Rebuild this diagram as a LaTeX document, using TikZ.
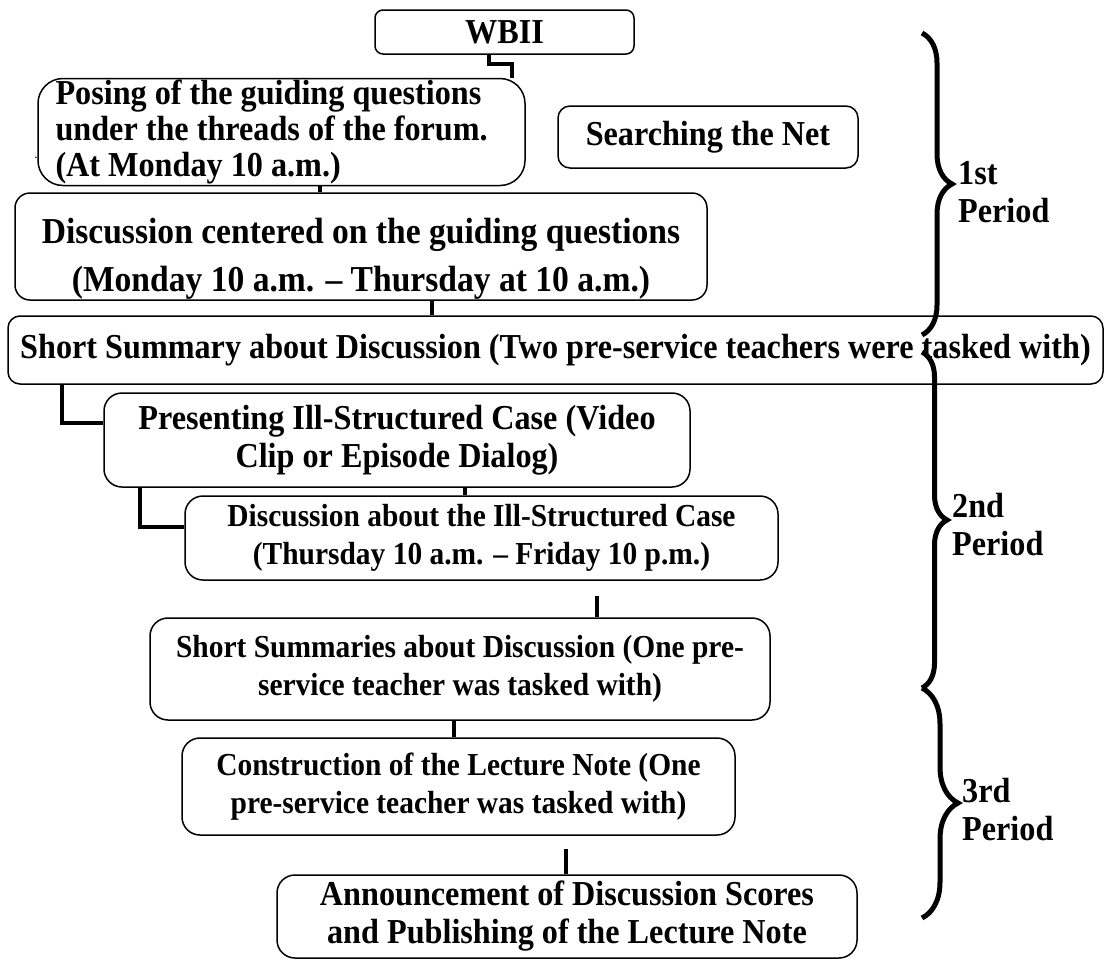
\documentclass[tikz,border=0pt]{standalone}
\usepackage{fontspec}
\setmainfont[FakeStretch=0.92]{Liberation Serif}
\usetikzlibrary{decorations.pathreplacing}

\begin{document}
\begin{tikzpicture}[
   x=1pt, y=-1pt,
   font=\fontsize{35}{38}\selectfont\bfseries,
   box/.style={draw,line width=1.5pt,rounded corners=#1,align=center,inner sep=0pt},
   box/.default=15pt,
   narrow/.style={font=\fontsize{32}{38}\selectfont\bfseries},
   link/.style={line width=4pt},
   period/.style={decorate,decoration={brace,amplitude=#1},line width=5pt},
   plabel/.style={anchor=west,align=left,inner sep=0pt}]
\useasboundingbox (0,0) rectangle (1108,959);
% boxes
\node[box=8pt,minimum width=259pt,minimum height=44pt] (wbii) at (504.5,32) {WBII};
\node[box=25pt,minimum width=487pt,minimum height=107pt,align=flush left,text width=452pt,
   font=\fontsize{35}{36}\selectfont\bfseries] (posing) at (281.5,132) {Posing of the guiding questions\\under the threads of the forum.\\(At Monday 10 a.m.)};
\node[box=12pt,minimum width=300pt,minimum height=62pt] (search) at (708,137) {Searching the Net};
\node[box,minimum width=692pt,minimum height=107pt,
   label={[align=center,yshift=-12pt,font=\fontsize{36.5}{38}\selectfont\bfseries]center:Discussion centered on the guiding questions\\[10pt](Monday 10 a.m. -- Thursday at 10 a.m.)}] (disc1) at (361,246.5) {};
\node[box=12pt,minimum width=1095pt,minimum height=68pt] (summ1) at (555.5,350) {Short Summary about Discussion (Two pre-service teachers were tasked with)};
\node[box=18pt,minimum width=586pt,minimum height=94pt] (present) at (397,440) {Presenting Ill-Structured Case (Video\\Clip or Episode Dialog)};
\node[box=18pt,narrow,minimum width=593pt,minimum height=84pt] (disc2) at (481.5,538) {Discussion about the Ill-Structured Case\\(Thursday 10 a.m. -- Friday 10 p.m.)};
\node[box=18pt,narrow,minimum width=620pt,minimum height=102pt] (summ2) at (460,669) {Short Summaries about Discussion (One pre-\\service teacher was tasked with)};
\node[box=18pt,narrow,minimum width=553pt,minimum height=97pt] (construct) at (458.5,786.5) {Construction of the Lecture Note (One\\pre-service teacher was tasked with)};
\node[box=18pt,minimum width=580pt,minimum height=83pt] (announce) at (567,916.5) {Announcement of Discussion Scores\\and Publishing of the Lecture Note};
\node[font=\fontsize{14}{14}\selectfont] (dot) at (36,158) {.};
% connectors
\draw[link] ([xshift=-16pt]wbii.south) -- ++(0,9) -| ([xshift=230pt]posing.north);
\draw[link] (posing.south -| 320,0) -- (disc1.north -| 320,0);
\draw[link] (disc1.south -| 432,0) -- (summ1.north -| 432,0);
\draw[link] (summ1.south -| 62,0) |- (present.west |- 0,423);
\draw[link] (present.south -| 465,0) -- (disc2.north -| 465,0);
\draw[link] (present.south -| 140,0) |- (disc2.west |- 0,527);
\draw[link,shorten <=15pt] (disc2.south -| 597,0) -- (summ2.north -| 597,0);
\draw[link] (summ2.south -| 454,0) -- (construct.north -| 454,0);
\draw[link,shorten <=13pt] (construct.south -| 566,0) -- (announce.north -| 566,0);
% periods
\draw[period=30pt] (922,33) -- (922,335);
\draw[period=25pt] (922,352) -- (922,688);
\draw[period=36pt] (922,688) -- (922,918);
\node[plabel] (p1) at (958,192) {1st\\Period};
\node[plabel] (p2) at (952,525) {2nd\\Period};
\node[plabel] (p3) at (962,810) {3rd\\Period};
\end{tikzpicture}
\end{document}
